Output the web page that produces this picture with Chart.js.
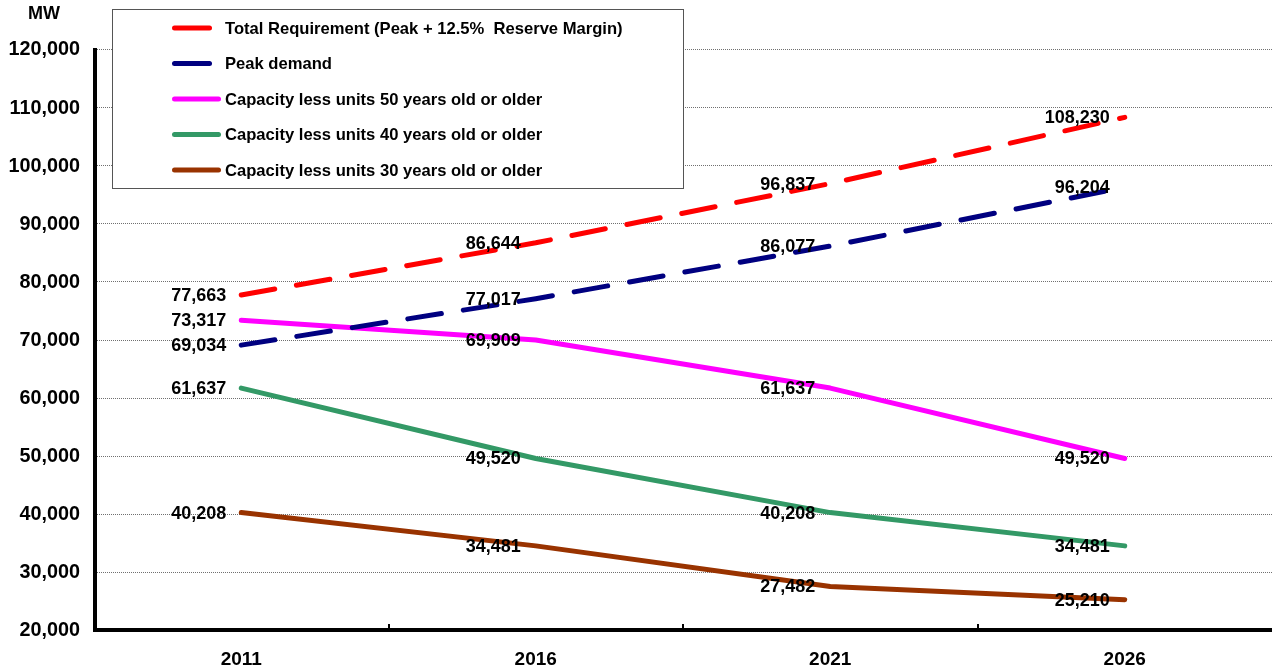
<!DOCTYPE html>
<html>
<head>
<meta charset="utf-8">
<script src="https://cdn.jsdelivr.net/npm/chart.js@4/dist/chart.umd.min.js"></script>
<style>
  html, body { margin: 0; padding: 0; background: #fff; }
  #wrap { width: 1272px; height: 672px; }
</style>
</head>
<body>
<div id="wrap"><canvas id="c" width="1272" height="672"></canvas></div>
<script>
// ---- data ----
const years = ['2011', '2016', '2021', '2026'];
const totalRequirement = [77663, 86644, 96837, 108230];
const peakDemand = [69034, 77017, 86077, 96204];
const cap50 = [73317, 69909, 61637, 49520];
const cap40 = [61637, 49520, 40208, 34481];
const cap30 = [40208, 34481, 27482, 25210];
const seriesNames = [
  'Total Requirement (Peak + 12.5%  Reserve Margin)',
  'Peak demand',
  'Capacity less units 50 years old or older',
  'Capacity less units 40 years old or older',
  'Capacity less units 30 years old or older'
];
const yMin = 20000, yMax = 120000, yStep = 10000;
const unitLabel = 'MW';

const fmt = v => Number(v).toLocaleString('en-US');
const FONT = '"Liberation Sans", Arial, sans-serif';

function ds(label, data, color, dash) {
  return {
    label, data,
    borderColor: color, backgroundColor: color,
    borderWidth: 5, borderCapStyle: 'round', borderJoinStyle: 'round',
    borderDash: dash || [],
    pointRadius: 0, pointHoverRadius: 0, tension: 0, fill: false,
    dashed: !!dash
  };
}

const decor = {
  id: 'decor',
  beforeDatasetsDraw(chart) {
    const ctx = chart.ctx, y = chart.scales.y, x = chart.scales.x, a = chart.chartArea;
    ctx.save();
    // dotted grid lines
    ctx.strokeStyle = '#707070';
    ctx.lineWidth = 1;
    ctx.setLineDash([1, 1]);
    for (let v = yMin + yStep; v <= yMax; v += yStep) {
      const py = Math.round(y.getPixelForValue(v)) + 0.5;
      ctx.beginPath(); ctx.moveTo(a.left + 3, py); ctx.lineTo(a.right, py); ctx.stroke();
    }
    ctx.setLineDash([]);
    // axes
    ctx.strokeStyle = '#000';
    ctx.lineWidth = 4;
    const bottom = y.getPixelForValue(yMin), top = y.getPixelForValue(yMax);
    ctx.beginPath(); ctx.moveTo(a.left + 1, top - 1); ctx.lineTo(a.left + 1, bottom + 2); ctx.stroke();
    ctx.beginPath(); ctx.moveTo(a.left - 1, bottom); ctx.lineTo(a.right, bottom); ctx.stroke();
    // x tick marks between categories (upward)
    ctx.lineWidth = 2;
    for (let i = 0; i < years.length - 1; i++) {
      const px = Math.round((x.getPixelForValue(i) + x.getPixelForValue(i + 1)) / 2);
      ctx.beginPath(); ctx.moveTo(px, bottom - 6); ctx.lineTo(px, bottom); ctx.stroke();
    }
    ctx.restore();
  },
  afterDatasetsDraw(chart) {
    const ctx = chart.ctx;
    ctx.save();
    ctx.font = 'bold 18px ' + FONT;
    ctx.fillStyle = '#000';
    ctx.textAlign = 'right';
    ctx.textBaseline = 'middle';
    chart.data.datasets.forEach((d, di) => {
      const meta = chart.getDatasetMeta(di);
      meta.data.forEach((pt, i) => {
        ctx.fillText(fmt(d.data[i]), pt.x - 15, pt.y + 1);
      });
    });
    ctx.restore();
  },
  afterDraw(chart) {
    const ctx = chart.ctx;
    ctx.save();
    // unit label
    ctx.font = 'bold 18px ' + FONT;
    ctx.fillStyle = '#000';
    ctx.textAlign = 'center';
    ctx.textBaseline = 'middle';
    ctx.fillText(unitLabel, 44, 14);
    // legend box
    ctx.fillStyle = '#fff';
    ctx.fillRect(112.5, 9.5, 571, 179);
    ctx.strokeStyle = '#555';
    ctx.lineWidth = 1;
    ctx.strokeRect(112.5, 9.5, 571, 179);
    ctx.font = 'bold 16.6px ' + FONT;
    ctx.textAlign = 'left';
    chart.data.datasets.forEach((d, i) => {
      const ry = 28 + i * 35.5;
      ctx.strokeStyle = d.borderColor;
      ctx.lineWidth = 5;
      ctx.lineCap = 'round';
      ctx.beginPath();
      ctx.moveTo(174.5, ry);
      ctx.lineTo(d.dashed ? 209.5 : 218.5, ry);
      ctx.stroke();
      ctx.fillStyle = '#000';
      ctx.fillText(d.label, 225, ry + 1);
    });
    ctx.restore();
  }
};

new Chart(document.getElementById('c'), {
  type: 'line',
  data: {
    labels: years,
    datasets: [
      ds(seriesNames[0], totalRequirement, '#FF0000', [34, 22]),
      ds(seriesNames[1], peakDemand, '#000080', [34, 22.2]),
      ds(seriesNames[2], cap50, '#FF00FF'),
      ds(seriesNames[3], cap40, '#339966'),
      ds(seriesNames[4], cap30, '#993300')
    ]
  },
  options: {
    responsive: false,
    animation: false,
    events: [],
    layout: { padding: { top: 49, right: 0, left: 0, bottom: 0 } },
    plugins: { legend: { display: false }, tooltip: { enabled: false }, title: { display: false } },
    scales: {
      x: {
        type: 'category',
        offset: true,
        grid: { display: false, drawTicks: false },
        border: { display: false },
        ticks: { color: '#000', font: { family: FONT, size: 19, weight: 'bold' }, padding: 18, maxRotation: 0 },
        afterFit(s) { s.height = 42; }
      },
      y: {
        min: yMin, max: yMax,
        grid: { display: false, drawTicks: false },
        border: { display: false },
        ticks: {
          stepSize: yStep,
          color: '#000',
          font: { family: FONT, size: 19.8, weight: 'bold' },
          padding: 14,
          labelOffset: 1,
          callback: v => fmt(v)
        },
        afterFit(s) { s.width = 94; }
      }
    }
  },
  plugins: [decor]
});
</script>
</body>
</html>
